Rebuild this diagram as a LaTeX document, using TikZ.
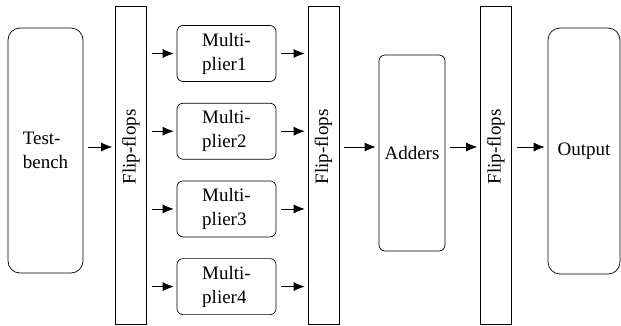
\documentclass[tikz,border=0pt]{standalone}
\usepackage{fontspec}
\setmainfont{Liberation Serif}
\usetikzlibrary{arrows.meta,positioning}
\tikzset{
	blk/.style={draw,line width=.7pt,inner sep=0pt,align=left},
	ff/.style={blk,minimum width=31pt,minimum height=318pt},
	mult/.style={blk,rounded corners=6pt,minimum width=99pt,minimum height=56pt},
	big/.style={blk,rounded corners=12pt},
	ar/.style={-{Latex[length=11pt,width=9pt]},line width=.7pt,
		shorten <=5pt,shorten >=3pt}
}

\begin{document}
\begin{tikzpicture}[x=1pt,y=-1pt,node distance=21pt,
	every node/.append style={font=\fontsize{19}{24}\selectfont}]
	\useasboundingbox (0,0) rectangle (621,325);
	\node[big,minimum width=75pt,minimum height=245pt] (tb) at (45.5,150.5) {Test-\\bench};
	\node[ff] (ff1) at (131,165) {};
	\node[rotate=90] (ff1l) at (131,147) {Flip-flops};
	\node[mult] (m1) at (226.5,53.5) {Multi-\\plier1};
	\node[mult,below=of m1] (m2) {Multi-\\plier2};
	\node[mult,below=of m2] (m3) {Multi-\\plier3};
	\node[mult,below=of m3] (m4) {Multi-\\plier4};
	\node[ff] (ff2) at (323.5,165) {};
	\node[rotate=90] (ff2l) at (323.5,147) {Flip-flops};
	\node[blk,rounded corners=6pt,minimum width=66pt,minimum height=196pt] (add) at (412,153) {Adders};
	\node[ff] (ff3) at (496,165) {};
	\node[rotate=90] (ff3l) at (496,147) {Flip-flops};
	\node[big,minimum width=72pt,minimum height=246pt] (out) at (584,151) {Output};
	% connections
	\draw[ar] (tb.east |- ff1l) -- (ff1.west |- ff1l);
	\foreach \i in {1,...,4} {
		\draw[ar] (ff1.east |- m\i) -- (m\i);
		\draw[ar] (m\i) -- (ff2.west |- m\i);
	}
	\draw[ar] (ff2.east |- ff2l) -- (add.west |- ff2l);
	\draw[ar] (add.east |- ff2l) -- (ff3.west |- ff2l);
	\draw[ar] (ff3.east |- ff3l) -- (out.west |- ff3l);
\end{tikzpicture}
\end{document}
